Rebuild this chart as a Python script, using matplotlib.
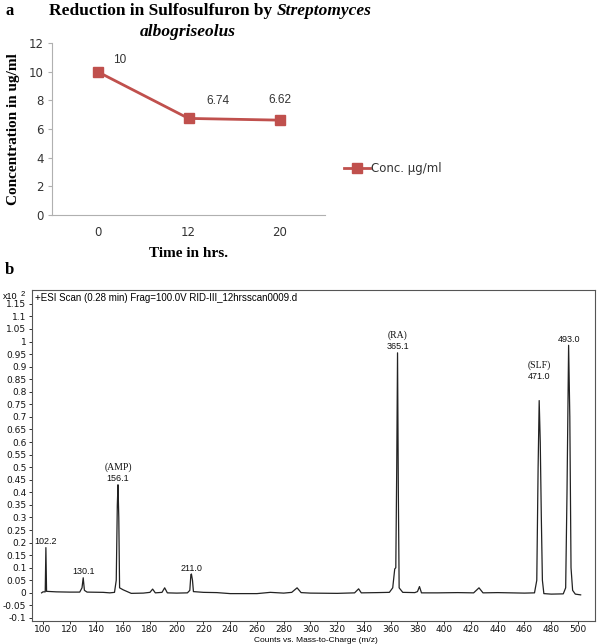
"""Two-panel figure: sulfosulfuron reduction (a) and ESI mass spectrum (b)."""
import matplotlib
matplotlib.use("Agg")
import matplotlib.pyplot as plt

# panel a data
time_labels = ["0", "12", "20"]
conc = [10, 6.74, 6.62]
conc_labels = ["10", "6.74", "6.62"]

# panel b data, counts (x10^2)
mz = [99, 100, 101.7, 102.2, 102.7, 110, 120, 127.5, 129.2, 130.1, 131.0, 133,
      145, 150, 153.5, 154.8, 155.6, 156.1, 156.7, 157.3, 160, 163, 166, 175,
      180, 182, 184, 189, 191, 193, 200, 208, 209.8, 210.6, 211.0, 211.8, 212.5,
      220, 230, 240, 260, 270, 280, 286, 290, 293, 300, 320, 333, 336, 338, 350,
      359, 361.5, 363, 363.8, 364.5, 365.1, 365.7, 366.3, 369, 378, 380, 381.5,
      383, 395, 410, 422, 426, 429, 440, 460, 467.5, 469.2, 470.2, 471.0, 471.8,
      472.6, 473.4, 474.5, 480, 489, 490.8, 491.8, 493.0, 493.9, 494.8, 496,
      498, 502]
counts = [0.0, 0.004, 0.004, 0.18, 0.006, 0.004, 0.003, 0.003, 0.02, 0.06, 0.01, 0.003,
          0.002, 0.0, 0.002, 0.05, 0.35, 0.43, 0.3, 0.02, 0.012, 0.005, -0.002, -0.001,
          0.002, 0.015, 0.0, 0.002, 0.02, 0.0, -0.001, 0.0, 0.01, 0.072, 0.075, 0.05, 0.005,
          0.002, 0.001, -0.003, -0.003, 0.002, -0.001, 0.002, 0.02, 0.001, -0.001, -0.002, 0.0, 0.016, 0.0, 0.001,
          0.002, 0.02, 0.095, 0.1, 0.5, 0.955, 0.4, 0.02, 0.002, 0.001, 0.005, 0.025,
          0.0, 0.0, 0.001, 0.0, 0.02, 0.0, 0.001, -0.001, 0.0, 0.05, 0.5, 0.765, 0.6,
          0.3, 0.05, -0.003, -0.005, -0.004, 0.02, 0.4, 0.985, 0.7, 0.1, 0.01,
          -0.005, -0.008]
peak_mz = [102.2, 130.1, 156.1, 211.0, 365.1, 471.0, 493.0]
peak_counts = [0.18, 0.06, 0.43, 0.075, 0.955, 0.765, 0.985]
peak_labels = ["102.2", "130.1", "156.1", "211.0", "365.1", "471.0", "493.0"]
peak_names = ["", "", "(AMP)", "", "(RA)", "(SLF)", ""]

red = "#C0504D"
serif = "Liberation Serif"
sans = "Liberation Sans"

fig = plt.figure(figsize=(6, 6.44), dpi=100)

# ---- panel a ----
ax = fig.add_axes([0.0867, 0.6661, 0.455, 0.2671])
x = range(len(conc))
ax.plot(x, conc, color=red, lw=2, marker="s", ms=7, label="Conc. \u00b5g/ml")
offsets = [(16, 4), (21, 8), (0, 10)]
for xi, yi, lab, off in zip(x, conc, conc_labels, offsets):
    ax.annotate(lab, (xi, yi), xytext=off, textcoords="offset points",
                ha="center", va="bottom", fontsize=8.5, color="#333333", family=sans)
ax.set_xlim(-0.5, 2.5)
ax.set_ylim(0, 12)
ax.set_yticks(range(0, 13, 2))
ax.set_xticks(list(x))
ax.set_xticklabels(time_labels)
for s in ["top", "right"]:
    ax.spines[s].set_visible(False)
for s in ["left", "bottom"]:
    ax.spines[s].set_color("#b0b0b0")
ax.tick_params(axis="y", length=3, color="#b0b0b0", labelsize=8.5, labelcolor="#333333", pad=3)
ax.tick_params(axis="x", length=0, labelsize=8.5, labelcolor="#333333", pad=8)
ax.set_ylabel("Concentration in ug/ml", family=serif, fontweight="bold", fontsize=11, labelpad=6)
ax.set_xlabel("Time in hrs.", family=serif, fontweight="bold", fontsize=11, labelpad=6)
ax.legend(loc="center left", bbox_to_anchor=(1.03, 0.27), frameon=False,
          fontsize=8.5, handlelength=2.2, handletextpad=0.1, labelcolor="#333333")

# title with italic species name
fig.canvas.draw()
r = fig.canvas.get_renderer()
t1 = fig.text(0, 0, "Reduction in Sulfosulfuron by ", family=serif, fontweight="bold", fontsize=12.5)
t2 = fig.text(0, 0, "Streptomyces", family=serif, fontweight="bold", style="italic", fontsize=12.5)
w1 = t1.get_window_extent(r).width
w2 = t2.get_window_extent(r).width
cx = 210
x0 = cx - (w1 + w2) / 2
ytop = 644 - 11
t1.set_transform(None)
t2.set_transform(None)
t1.set_position((x0, ytop))
t2.set_position((x0 + w1, ytop))
t1.set_va("center")
t2.set_va("center")
fig.text(188 / 600, 1 - 32 / 644, "albogriseolus", family=serif, fontweight="bold",
         style="italic", fontsize=12.5, ha="center", va="center")
fig.text(5 / 600, 1 - 11 / 644, "a", family=serif, fontweight="bold", fontsize=12, va="center")

# ---- panel b ----
bx = fig.add_axes([0.0533, 0.0357, 0.9383, 0.514])
bx.plot(mz, counts, color="#222222", lw=0.9)
for m, c, lab, name in zip(peak_mz, peak_counts, peak_labels, peak_names):
    gap = 14 if lab == "471.0" else 1
    bx.annotate(lab, (m, c), xytext=(0, gap), textcoords="offset points",
                ha="center", va="bottom", fontsize=6.5, family=sans, color="#111111")
    if name:
        bx.annotate(name, (m, c), xytext=(0, gap + 8), textcoords="offset points",
                    ha="center", va="bottom", fontsize=7, family=serif, color="#111111")
bx.set_xlim(91.8, 512.7)
bx.set_ylim(-0.112, 1.205)
bx.set_xticks(range(100, 501, 20))
yt = [round(-0.1 + 0.05 * i, 2) for i in range(26)]
bx.set_yticks(yt)
bx.set_yticklabels([("%g" % v) for v in yt])
for s in bx.spines.values():
    s.set_color("#555555")
    s.set_linewidth(0.8)
bx.tick_params(length=2, width=0.6, labelsize=6.5, pad=2, colors="#111111")
bx.tick_params(axis="x", pad=1)
fig.text(316 / 600, 1 - 640 / 644, "Counts vs. Mass-to-Charge (m/z)", family=sans,
         fontsize=6, ha="center", va="center")
bx.text(0.006, 0.992, "+ESI Scan (0.28 min) Frag=100.0V RID-III_12hrsscan0009.d",
        transform=bx.transAxes, ha="left", va="top", family=sans, fontsize=7)
fig.text(3 / 600, 1 - 297 / 644, "x10", family=sans, fontsize=6.5, va="center")
fig.text(21 / 600, 1 - 294 / 644, "2", family=sans, fontsize=5.5, va="center")
fig.text(5 / 600, 1 - 270 / 644, "b", family=serif, fontweight="bold", fontsize=12, va="center")

fig.savefig("out.png", dpi=100, facecolor="white")
